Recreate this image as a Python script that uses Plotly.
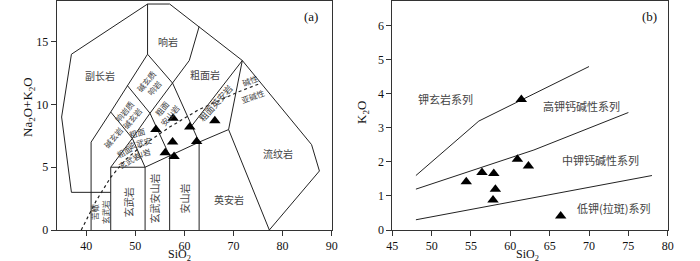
import plotly.graph_objects as go

# ---------------- data ----------------
# (a) TAS diagram samples
tas_sio2 = [54.2, 57.7, 61.1, 66.2, 57.6, 62.5, 56.1, 57.9]
tas_alk = [8.0, 8.9, 8.2, 8.7, 7.0, 7.05, 6.15, 5.85]
# (b) K2O-SiO2 samples
k_sio2 = [54.4, 56.4, 57.9, 58.1, 57.8, 60.9, 62.3, 61.4, 66.4]
k_k2o = [1.42, 1.69, 1.66, 1.2, 0.88, 2.08, 1.88, 3.83, 0.41]

# TAS field boundaries (Middlemost 1994)
tas_lines = [
    [(37, 3), (35, 9), (37, 14), (52.5, 18), (57, 18), (63, 16.2), (71.8, 13.5), (85.9, 6.8), (87.5, 4.7), (77.3, 0)],
    [(37, 3), (45, 3)],
    [(41, 0), (41, 7), (45, 9.4), (48.4, 11.5), (52.5, 14), (52.5, 18)],
    [(45, 0), (45, 5), (52, 5), (52, 0)],
    [(45, 5), (49.4, 7.3), (53, 9.3), (57.6, 11.7), (61, 13.5), (63, 16.2)],
    [(52, 5), (57, 5.9), (63, 7), (69, 8), (77.3, 0)],
    [(57, 0), (57, 5.9)],
    [(63, 0), (63, 7)],
    [(45, 9.4), (49.4, 7.3), (52, 5)],
    [(48.4, 11.5), (53, 9.3), (57, 5.9)],
    [(52.5, 14), (57.6, 11.7), (63, 7)],
    [(69, 8), (71.8, 13.5), (61.5, 8.3)],
]
alk_line_x = [39, 42, 45, 48, 51, 54, 57, 60, 63, 67, 71, 75.6]
alk_line_y = [0, 2.3, 4.2, 5.6, 6.6, 7.4, 8.2, 8.9, 9.6, 10.3, 11.0, 11.7]

tas_labels = [
    ("响岩", 56.6, 15.0, 0, 10), ("副长岩", 42.8, 12.3, 0, 10), ("粗面岩", 64.1, 12.4, 0, 10),
    ("碱玄质<br>响岩", 53.0, 11.6, -50, 8), ("响岩质<br>碱玄岩", 48.6, 9.2, -50, 8),
    ("碱玄岩", 45.5, 7.4, -50, 8), ("粗面<br>安山岩", 56.3, 9.4, -50, 8),
    ("粗面<br>玄武安<br>山岩", 51.0, 6.9, -15, 8), ("粗面<br>玄武岩", 48.4, 5.9, -30, 8),
    ("苦橄<br>玄武岩", 42.8, 1.4, -90, 8), ("玄武岩", 48.5, 2.2, -90, 10),
    ("玄武安山岩", 54.0, 2.5, -90, 10), ("安山岩", 60.1, 2.5, -90, 10),
    ("英安岩", 69.0, 2.45, 0, 10), ("流纹岩", 79.1, 6.1, 0, 10),
    ("粗面英安岩", 66.3, 10.1, -48, 9), ("碱性", 73.3, 11.9, -20, 8), ("亚碱性", 73.9, 10.6, -20, 8),
]

# K2O-SiO2 series boundaries (Peccerillo & Taylor)
sho_x = [48, 56, 63, 70]
sho_y = [1.6, 3.2, 4.0, 4.8]
hk_x = [48, 63, 75]
hk_y = [1.2, 2.35, 3.45]
lk_x = [48, 78]
lk_y = [0.3, 1.6]
k_labels = [
    ("钾玄岩系列", 51.8, 3.86), ("高钾钙碱性系列", 69.1, 3.64),
    ("中钾钙碱性系列", 71.4, 2.05), ("低钾(拉斑)系列", 73.1, 0.64),
]

# ---------------- figure ----------------
W, H = 700, 261
fig = go.Figure()

LC = "#222"
for seg in tas_lines:
    fig.add_trace(go.Scatter(x=[p[0] for p in seg], y=[p[1] for p in seg], mode="lines",
                             line=dict(color=LC, width=1), xaxis="x", yaxis="y",
                             hoverinfo="skip", showlegend=False))
fig.add_trace(go.Scatter(x=alk_line_x, y=alk_line_y, mode="lines",
                         line=dict(color=LC, width=1.2, dash="dot"), xaxis="x", yaxis="y",
                         showlegend=False))
fig.add_trace(go.Scatter(x=tas_sio2, y=tas_alk, mode="markers",
                         marker=dict(symbol="triangle-up", size=10, color="black"),
                         xaxis="x", yaxis="y", showlegend=False))

for xs, ys in [(sho_x, sho_y), (hk_x, hk_y), (lk_x, lk_y)]:
    fig.add_trace(go.Scatter(x=xs, y=ys, mode="lines", line=dict(color=LC, width=1),
                             xaxis="x2", yaxis="y2", showlegend=False))
fig.add_trace(go.Scatter(x=k_sio2, y=k_k2o, mode="markers",
                         marker=dict(symbol="triangle-up", size=10, color="black"),
                         xaxis="x2", yaxis="y2", showlegend=False))

tickfont = dict(family="Liberation Serif", size=12, color="#111")
axcommon = dict(showgrid=False, zeroline=False, showline=True, mirror=True, linecolor="#333",
                linewidth=1, ticks="outside", ticklen=5, tickcolor="#333", tickfont=tickfont,
                automargin=False)

ybot = 31 / H
ytop = 1 - 0.5 / H
fig.update_layout(
    width=W, height=H, margin=dict(l=0, r=0, t=0, b=0, autoexpand=False),
    paper_bgcolor="white", plot_bgcolor="white",
    xaxis=dict(domain=[56.7 / W, 331.7 / W], range=[34, 90], tickvals=[40, 50, 60, 70, 80, 90],
               anchor="y", **axcommon),
    yaxis=dict(domain=[ybot, ytop], range=[0, 18.28], tickvals=[0, 5, 10, 15], anchor="x", **axcommon),
    xaxis2=dict(domain=[392.3 / W, 667.7 / W], range=[45, 80], tickvals=[45, 50, 55, 60, 65, 70, 75, 80],
                anchor="y2", **axcommon),
    yaxis2=dict(domain=[ybot, ytop], range=[0, 6.74], tickvals=[0, 1, 2, 3, 4, 5, 6], anchor="x2", **axcommon),
)

cjk = "Noto Sans CJK SC"
ann = []
for t, x, y, a, s in tas_labels:
    ann.append(dict(text=t, x=x, y=y, xref="x", yref="y", showarrow=False, textangle=a,
                    xanchor="center", yanchor="middle",
                    font=dict(family=cjk, size=s, color="#444")))
for t, x, y in k_labels:
    ann.append(dict(text=t, x=x, y=y, xref="x2", yref="y2", showarrow=False,
                    xanchor="center", yanchor="middle",
                    font=dict(family=cjk, size=11, color="#444")))
serif = "Liberation Serif"
def padd(text, x, y, xref, yref, angle=0, size=13):
    ann.append(dict(text=text, x=x, y=y, xref=xref, yref=yref, showarrow=False, textangle=angle,
                    xanchor="center", yanchor="middle",
                    font=dict(family=serif, size=size, color="#111")))
padd("(a)", 85.8, 17.0, "x", "y")
padd("(b)", 77.65, 6.28, "x2", "y2")
padd("SiO<sub>2</sub>", 179 / W, 1 - 254.5 / H, "paper", "paper", size=12)
padd("SiO<sub>2</sub>", 527 / W, 1 - 254.5 / H, "paper", "paper", size=12)
padd("Na<sub>2</sub>O+K<sub>2</sub>O", 28 / W, 1 - 107 / H, "paper", "paper", -90)
padd("K<sub>2</sub>O", 362 / W, 1 - 113 / H, "paper", "paper", -90)
fig.update_layout(annotations=ann)

fig.write_html("out.html", config={"displayModeBar": False},
               post_script="document.body.style.margin='0';document.body.style.overflow='hidden';")
